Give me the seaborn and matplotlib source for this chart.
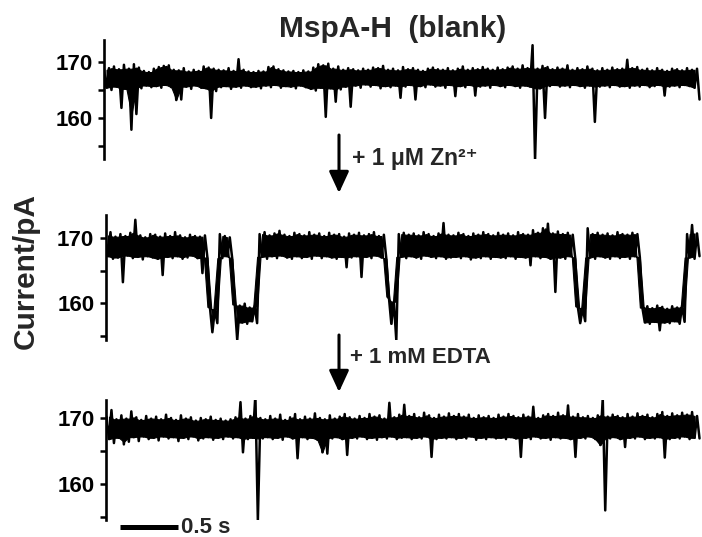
import numpy as np
import pandas as pd
import matplotlib
matplotlib.use("Agg")
import matplotlib.pyplot as plt
import seaborn as sns

# ---------------- data (min/max envelope of each current trace, pA) ----------------
# each trace: 120 bins of 5.15 s / 120, per bin the max (upper) and min (lower) current
BIN_S = 5.15 / 120

blank_upper = [
    168.6, 168.9, 169.2, 168.7, 169.5, 168.8, 169.6, 169.0, 168.4, 168.2,
    168.8, 169.1, 169.3, 169.4, 168.6, 168.5, 168.9, 168.3, 168.6, 168.4,
    169.2, 169.0, 168.8, 168.6, 168.5, 168.9, 168.4, 170.5, 168.6, 168.3,
    168.2, 168.4, 168.3, 169.1, 169.2, 168.7, 168.5, 168.3, 168.4, 168.2,
    168.5, 168.3, 169.0, 169.6, 169.4, 169.7, 168.8, 169.2, 168.6, 168.9,
    168.7, 168.5, 168.8, 168.6, 169.0, 168.9, 169.3, 168.6, 168.8, 168.5,
    169.1, 168.7, 168.9, 168.6, 168.4, 168.8, 169.0, 168.7, 168.6, 168.9,
    168.5, 168.8, 169.2, 168.6, 168.9, 168.7, 169.1, 168.8, 168.6, 169.0,
    168.7, 169.0, 169.2, 168.8, 169.4, 168.9, 173.0, 168.8, 169.3, 169.1,
    168.7, 169.0, 168.8, 169.4, 168.6, 168.9, 168.7, 169.2, 168.8, 168.5,
    168.9, 168.6, 169.0, 168.7, 168.8, 170.4, 168.9, 169.1, 168.6, 168.8,
    168.5, 168.9, 168.6, 168.4, 168.8, 168.7, 168.5, 168.9, 168.6, 168.8]
blank_lower = [
    165.4, 165.0, 165.6, 161.8, 165.2, 157.9, 160.7, 165.3, 165.8, 165.5,
    165.7, 165.4, 165.9, 165.5, 163.2, 163.3, 165.6, 165.2, 165.8, 165.4,
    165.3, 160.0, 164.8, 165.5, 165.7, 165.2, 165.6, 165.4, 165.8, 165.5,
    165.6, 165.3, 165.8, 165.5, 165.9, 165.4, 165.7, 165.6, 165.3, 165.8,
    165.5, 165.2, 164.9, 165.4, 160.2, 165.3, 162.9, 165.1, 165.6, 162.0,
    165.8, 165.4, 166.0, 165.6, 165.9, 165.3, 165.7, 165.5, 165.8, 163.6,
    165.6, 165.9, 163.3, 165.7, 165.5, 166.0, 165.6, 165.8, 165.4, 165.9,
    163.9, 165.7, 165.5, 165.9, 164.0, 165.6, 165.8, 165.4, 165.9, 165.7,
    165.5, 165.9, 165.7, 165.4, 165.8, 165.6, 152.5, 165.3, 160.0, 165.7,
    165.9, 165.6, 165.8, 165.5, 165.9, 165.7, 165.4, 165.8, 159.3, 165.6,
    165.8, 165.5, 165.9, 165.6, 165.7, 165.4, 165.8, 165.6, 165.9, 165.5,
    165.7, 165.9, 164.0, 165.6, 165.8, 165.5, 165.9, 165.7, 165.4, 163.3]

zn_upper = [
    170.4, 170.9, 170.2, 170.6, 170.3, 170.8, 172.8, 170.4, 170.1, 170.6,
    170.5, 170.2, 170.7, 170.3, 170.9, 170.4, 170.1, 170.5, 170.3, 170.2,
    170.4, 159.4, 159.0, 170.6, 170.3, 170.1, 159.8, 159.6, 159.9, 159.3,
    159.5, 170.6, 170.9, 170.4, 170.7, 171.1, 170.5, 170.3, 170.8, 170.6,
    170.4, 170.9, 170.5, 170.7, 170.3, 170.8, 170.5, 170.6, 170.2, 170.7,
    170.5, 170.8, 170.4, 170.6, 170.9, 170.3, 170.5, 161.0, 160.2, 170.6,
    170.8, 170.5, 170.7, 170.4, 170.9, 170.6, 170.3, 170.7, 172.3, 170.5,
    170.4, 170.8, 170.6, 170.3, 170.7, 170.5, 170.9, 170.6, 170.4, 170.8,
    170.5, 170.7, 170.4, 170.9, 170.6, 170.5, 171.2, 170.8, 171.5, 172.2,
    170.7, 171.0, 170.6, 170.8, 170.5, 159.5, 159.2, 171.5, 170.6, 170.8,
    170.5, 170.7, 170.4, 170.9, 170.6, 170.5, 170.8, 170.6, 159.3, 159.5,
    159.2, 159.6, 159.4, 159.1, 159.5, 159.3, 159.6, 170.6, 172.0, 170.7]
zn_lower = [
    167.2, 166.8, 167.0, 163.2, 167.3, 166.9, 167.1, 166.7, 167.2, 167.0,
    166.8, 164.3, 167.1, 166.9, 167.2, 166.8, 167.0, 167.3, 166.9, 164.6,
    167.0, 155.5, 156.9, 166.9, 167.2, 166.8, 154.3, 157.0, 156.8, 157.2,
    156.9, 167.1, 166.8, 167.2, 166.9, 167.3, 167.0, 166.8, 167.2, 166.9,
    167.1, 166.8, 167.3, 166.9, 167.2, 167.0, 166.8, 167.1, 165.5, 167.0,
    167.2, 164.0, 167.1, 166.9, 167.3, 167.0, 166.8, 156.8, 154.3, 167.1,
    166.9, 167.2, 167.0, 166.8, 167.3, 167.1, 166.9, 167.2, 166.8, 167.0,
    167.1, 166.9, 167.2, 166.7, 167.0, 166.9, 167.2, 166.8, 167.1, 167.0,
    166.9, 167.2, 166.8, 167.1, 167.0, 165.8, 167.2, 166.9, 167.1, 166.8,
    161.7, 167.0, 166.8, 167.2, 166.9, 156.9, 157.2, 167.0, 166.8, 167.2,
    167.0, 166.8, 167.2, 166.9, 167.1, 166.8, 167.2, 167.0, 157.0, 156.8,
    157.1, 155.8, 157.0, 156.9, 157.2, 156.8, 157.1, 167.0, 166.8, 167.2]

edta_upper = [
    170.2, 171.2, 169.8, 170.4, 169.9, 171.0, 170.1, 169.7, 170.3, 169.9,
    170.2, 169.8, 170.5, 170.0, 169.7, 170.4, 169.9, 170.1, 169.6, 170.0,
    169.8, 170.2, 169.7, 169.9, 169.6, 169.8, 170.1, 172.4, 169.9, 170.3,
    173.5, 170.0, 169.8, 170.3, 169.9, 170.5, 169.7, 170.1, 170.6, 169.8,
    170.2, 169.9, 170.7, 170.0, 169.8, 170.4, 169.9, 170.2, 170.6, 170.1,
    169.9, 170.3, 170.0, 170.6, 170.2, 170.4, 169.9, 172.3, 170.1, 170.5,
    172.0, 170.3, 170.6, 170.1, 170.8, 170.4, 170.0, 170.5, 170.2, 170.7,
    170.3, 170.6, 170.2, 170.5, 170.0, 170.4, 170.1, 170.3, 170.0, 170.5,
    170.2, 170.6, 170.3, 170.1, 170.5, 170.2, 171.7, 170.0, 170.4, 170.6,
    170.3, 170.8, 170.4, 171.9, 170.2, 170.6, 170.1, 170.3, 170.0, 170.4,
    173.0, 170.2, 170.5, 170.3, 170.1, 170.6, 170.2, 170.7, 170.3, 170.5,
    170.1, 170.6, 170.9, 170.3, 170.7, 170.4, 170.8, 170.5, 170.9, 170.3]
edta_lower = [
    166.8, 166.2, 167.0, 166.0, 166.4, 167.1, 166.5, 167.2, 166.8, 167.0,
    166.6, 167.2, 166.9, 167.1, 166.5, 167.0, 166.8, 167.2, 166.6, 166.9,
    167.1, 166.7, 167.0, 166.8, 167.2, 166.9, 167.1, 164.8, 166.8, 167.0,
    154.5, 166.9, 167.1, 166.8, 167.0, 166.7, 167.2, 166.9, 163.9, 167.1,
    166.8, 167.0, 166.7, 164.8, 164.6, 166.9, 167.1, 166.8, 164.4, 167.0,
    166.9, 167.2, 166.8, 167.0, 166.7, 167.1, 166.9, 167.2, 166.8, 167.0,
    167.1, 166.8, 167.0, 166.9, 167.2, 164.1, 166.8, 167.0, 166.9, 167.1,
    166.8, 167.0, 166.9, 167.2, 166.7, 167.0, 166.8, 167.1, 166.9, 167.0,
    166.8, 167.1, 166.9, 164.1, 167.0, 166.8, 167.2, 166.9, 167.0, 166.7,
    167.1, 166.9, 167.0, 166.8, 164.1, 167.0, 166.9, 167.2, 166.8, 165.9,
    156.0, 166.9, 167.1, 166.8, 165.6, 167.0, 166.9, 167.2, 166.8, 167.0,
    166.9, 167.1, 164.0, 166.8, 167.0, 166.9, 167.2, 166.8, 167.0, 166.9]

major_ticks = [160, 170]
minor_ticks = [155, 165]
title = "MspA-H  (blank)"
ylabel = "Current/pA"
step1 = "+ 1 μM Zn²⁺"
step2 = "+ 1 mM EDTA"
scale_s = 0.5
scale_label = "0.5 s"

# ---------------- style ----------------
sns.set_style("white")
plt.rcParams["font.family"] = ["Liberation Sans", "DejaVu Sans"]
plt.rcParams["font.weight"] = "bold"

W, H = 702, 537
fig = plt.figure(figsize=(W / 100, H / 100), dpi=100)


def px_axes(left, top, right, bottom):
    return fig.add_axes([left / W, 1 - bottom / H, (right - left) / W, (bottom - top) / H])


def trace_frame(upper, lower):
    n = len(upper)
    t = np.arange(2 * n) * BIN_S / 2
    v = np.column_stack([upper, lower]).ravel()
    return pd.DataFrame({"time": t, "current": v})


panels = [
    (blank_upper, blank_lower, (104.0, 39.6, 702, 159.4), (152.6, 174.0)),
    (zn_upper, zn_lower, (105.5, 215.25, 702, 340.05), (154.3, 173.5)),
    (edta_upper, edta_lower, (106.5, 399.5, 702, 520.3), (154.5, 172.8)),
]

axes = []
for up, lo, box, ylim in panels:
    assert len(up) == 120 and len(lo) == 120
    ax = px_axes(*box)
    df = trace_frame(up, lo)
    # solid noise band: envelope shared by neighbouring bins (single-bin spikes stay as lines)
    up_a, lo_a = np.asarray(up), np.asarray(lo)
    core_hi = np.minimum(up_a[:-1], up_a[1:])
    core_lo = np.maximum(lo_a[:-1], lo_a[1:])
    t_core = (np.arange(len(up) - 1) + 0.5) * BIN_S
    ax.fill_between(t_core, core_lo, core_hi, color="black", lw=0.8, edgecolor="black")
    sns.lineplot(data=df, x="time", y="current", ax=ax, color="black",
                 lw=1.8, sort=False, estimator=None, legend=False)
    ax.set_xlim(0, 5.15)
    ax.set_ylim(*ylim)
    ax.set_yticks(major_ticks)
    ax.set_yticks(minor_ticks, minor=True)
    ax.set_xticks([])
    ax.set_xlabel("")
    ax.set_ylabel("")
    for s in ["top", "right", "bottom"]:
        ax.spines[s].set_visible(False)
    ax.spines["left"].set_color("black")
    ax.spines["left"].set_linewidth(1.9)
    ax.tick_params(axis="y", which="both", left=True, direction="out", length=4.5,
                   width=1.8, color="black", labelcolor="black", labelsize=16, pad=3.6)
    ax.patch.set_alpha(0)
    axes.append(ax)

# scale bar on the last panel
ax3 = axes[2]
x0 = 0.117
ax3.plot([x0, x0 + scale_s], [-0.055, -0.055], transform=ax3.get_xaxis_transform(),
         color="black", lw=3.6, solid_capstyle="butt", clip_on=False)
fig.text(181 / W, 1 - 533 / H, scale_label, ha="left", va="baseline",
         fontsize=16, fontweight="bold")

# texts
fig.text(393 / W, 1 - 37.3 / H, title, ha="center", va="baseline",
         fontsize=21.5, fontweight="bold")
fig.text(26 / W, 1 - 271 / H, ylabel, rotation=90, ha="center", va="center",
         fontsize=21.5, fontweight="bold")
fig.text(352 / W, 1 - 165 / H, step1, ha="left", va="baseline",
         fontsize=16.5, fontweight="bold")
fig.text(350 / W, 1 - 363.4 / H, step2, ha="left", va="baseline",
         fontsize=16, fontweight="bold")

# arrows
for ytop, ybot in [(135, 193), (335, 392)]:
    fig.add_artist(matplotlib.patches.FancyArrowPatch(
        (339 / W, 1 - ytop / H), (339 / W, 1 - ybot / H), transform=fig.transFigure,
        arrowstyle="-|>,head_length=0.65,head_width=0.3", mutation_scale=20,
        lw=2.2, color="black", shrinkA=0, shrinkB=0))

fig.savefig("out.png", dpi=100)
